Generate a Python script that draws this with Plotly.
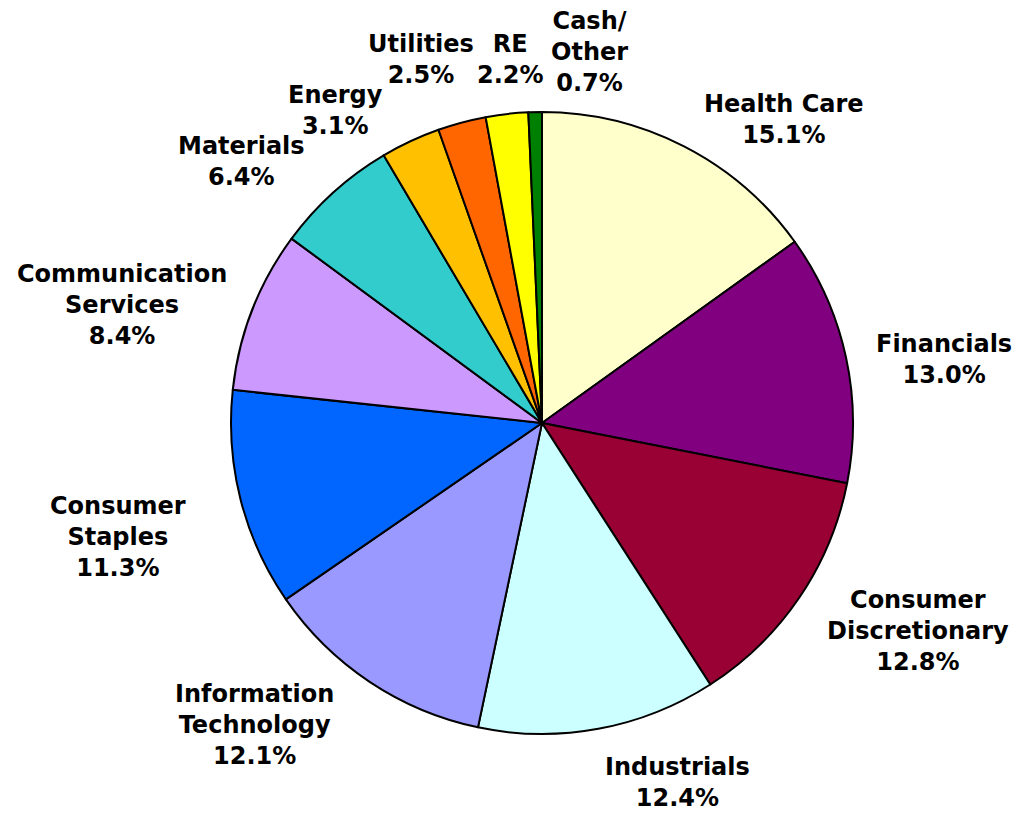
import math
import plotly.graph_objects as go

# Data
sectors = ["Health Care", "Financials", "Consumer Discretionary", "Industrials",
           "Information Technology", "Consumer Staples", "Communication Services",
           "Materials", "Energy", "Utilities", "RE", "Cash/Other"]
label_text = ["Health Care", "Financials", "Consumer<br>Discretionary", "Industrials",
              "Information<br>Technology", "Consumer<br>Staples", "Communication<br>Services",
              "Materials", "Energy", "Utilities", "RE", "Cash/<br>Other"]
weights = [15.1, 13.0, 12.8, 12.4, 12.1, 11.3, 8.4, 6.4, 3.1, 2.5, 2.2, 0.7]

# Styles
colors = ["#FFFFCC", "#800080", "#990033", "#CCFFFF", "#9999FF", "#0066FF",
          "#CC99FF", "#33CCCC", "#FFC000", "#FF6600", "#FFFF00", "#008000"]
# label placement: radial distance (px) and angular nudge (deg) from slice mid-angle
label_r = [388, 407, 430, 384, 417, 439, 436, 398, 375, 383, 365, 374]
label_nudge = [11.4, 3.2, -5.2, -10.3, 9.9, -0.85, -5.6, -6.8, -8.4, -3.5, 1.5, 8.6]

PAGE_OFFSET = 8  # browser body margin
W, H = 1021 - 2 * PAGE_OFFSET, 822 - 2 * PAGE_OFFSET
cx_px, cy_px, R_px = 542 - PAGE_OFFSET, 423 - PAGE_OFFSET, 311

fig = go.Figure(go.Pie(
    labels=sectors,
    values=weights,
    sort=False,
    direction="clockwise",
    rotation=0,
    textinfo="none",
    hoverinfo="label+percent",
    marker=dict(colors=colors, line=dict(color="black", width=2)),
    domain=dict(x=[(cx_px - R_px) / W, (cx_px + R_px) / W],
                y=[1 - (cy_px + R_px) / H, 1 - (cy_px - R_px) / H]),
    showlegend=False,
))

total = sum(weights)
annotations = []
cum = 0.0
for txt, v, r, nd in zip(label_text, weights, label_r, label_nudge):
    mid = (cum + v / 2) / total * 360.0
    cum += v
    ang = math.radians(mid + nd)
    x_px = cx_px + r * math.sin(ang)
    y_px = cy_px - r * math.cos(ang)
    annotations.append(dict(
        x=x_px / W, y=1 - y_px / H, xref="paper", yref="paper",
        text=f"{txt}<br>{v:.1f}%", showarrow=False,
        xanchor="center", yanchor="middle", align="center",
        font=dict(family="DejaVu Sans, Arial, sans-serif", size=24, color="black", weight="bold"),
    ))

fig.update_layout(
    width=W, height=H,
    margin=dict(l=0, r=0, t=0, b=0),
    paper_bgcolor="white",
    plot_bgcolor="white",
    annotations=annotations,
)

fig.write_html("out.html")
